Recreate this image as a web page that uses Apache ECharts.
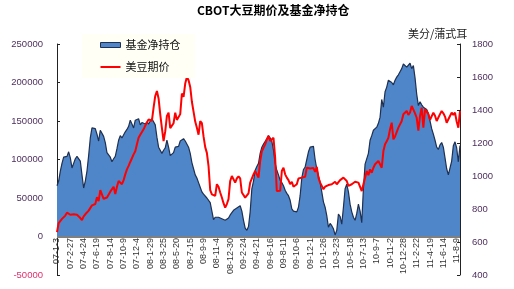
<!DOCTYPE html>
<html>
<head>
<meta charset="utf-8">
<script src="https://cdn.jsdelivr.net/npm/echarts@6/dist/echarts.min.js"></script>
<style>
  html, body { margin: 0; padding: 0; background: #fff; }
  #main { width: 514px; height: 289px; }
</style>
</head>
<body>
<div id="main"></div>
<script>
// 周度日期 07-1-3 起, 之后每周二
let weeks = ['07-1-3'];
for (let i = 1; i < 243; i++) {
    let d = new Date(Date.UTC(2007, 0, 2 + i * 7));
    weeks.push(String(d.getUTCFullYear()).slice(2) + '-' + (d.getUTCMonth() + 1) + '-' + d.getUTCDate());
}

// 基金净持仓 (手), 读图估计, 单位千
let fundK = [
    66, 72, 85, 95, 103, 105, 104, 110, 102, 89,
    95, 101, 104, 106, 98, 80, 63, 72, 85, 105,
    128, 141, 142, 140, 133, 124, 138, 136, 130, 122,
    109, 106, 103, 97, 101, 104, 114, 125, 131, 128,
    127, 136, 139, 143, 151, 146, 141, 151, 149, 153,
    145, 148, 146, 146, 149, 146, 150, 153, 151, 145,
    129, 116, 117, 108, 112, 115, 125, 116, 105, 107,
    109, 116, 118, 117, 124, 126, 127, 124, 122, 116,
    108, 96, 88, 80, 76, 70, 64, 58, 55, 53,
    50, 48, 44, 33, 22, 25, 27, 25, 24, 23,
    22, 21, 21, 24, 28, 31, 34, 36, 37, 39,
    40, 33, 21, 11, 8, 13, 32, 62, 72, 86,
    91, 95, 108, 116, 120, 122, 127, 131, 128, 124,
    112, 95, 86, 80, 73, 70, 66, 60, 56, 53,
    47, 36, 33, 32, 32, 38, 53, 76, 87, 90,
    100, 110, 116, 118, 117, 100, 88, 79, 70, 58,
    45, 38, 27, 12, 17, 14, 10, 2, 8, 29,
    26, 16, 38, 62, 68, 58, 42, 32, 25, 21,
    30, 42, 33, 18, 62, 94, 96, 108, 125, 131,
    138, 140, 142, 147, 155, 178, 168, 188, 194, 203,
    205, 200, 197, 203, 207, 210, 214, 218, 224, 223,
    220, 218, 225, 218, 222, 206, 185, 170, 175, 171,
    168, 166, 165, 160, 150, 140, 133, 125, 116, 113,
    119, 122, 116, 102, 88, 80, 80, 98, 118, 123,
    115, 97, 118
];

// 美豆期价 (美分/蒲式耳)
let soyPrice = [
    660, 715, 725, 740, 735, 760, 778, 770, 765, 772,
    768, 770, 765, 758, 745, 732, 755, 768, 772, 790,
    800, 822, 825, 830, 872, 848, 915, 905, 862, 858,
    870, 862, 905, 912, 935, 890, 935, 970, 958, 950,
    975, 1010, 1040, 1061, 1085, 1080, 1131, 1150, 1192, 1232,
    1250, 1245, 1283, 1305, 1300, 1343, 1350, 1335, 1414, 1485,
    1515, 1470, 1374, 1290, 1212, 1270, 1364, 1384, 1290, 1283,
    1320, 1384, 1340, 1350, 1375, 1500, 1480, 1560, 1600, 1580,
    1540, 1450, 1390, 1330, 1293, 1250, 1333, 1320, 1240, 1175,
    1140, 1060, 915, 889, 885, 880, 950, 935, 900, 870,
    835, 808, 830, 860, 970, 1000, 990, 960, 985, 998,
    985, 900, 889, 869, 880, 895, 960, 960, 1010, 1030,
    1020, 990, 1090, 1150, 1160, 1192, 1222, 1242, 1212, 1215,
    1232, 1111, 909, 900, 910, 1030, 1050, 1010, 990, 975,
    950, 965, 935, 925, 950, 985, 980, 990, 1000, 995,
    1050, 1055, 1045, 1040, 1048, 1025, 1055, 990, 960, 940,
    920, 935, 930, 945, 940, 950, 960, 965, 950, 960,
    975, 985, 990, 985, 970, 940, 930, 950, 958, 965,
    955, 960, 965, 909, 950, 990, 1030, 1005, 1040, 1020,
    1050, 1071, 1060, 1091, 1100, 1050, 1151, 1192, 1210, 1232,
    1283, 1323, 1222, 1240, 1250, 1293, 1300, 1333, 1374, 1365,
    1394, 1370, 1385, 1424, 1434, 1380, 1353, 1275, 1364, 1414,
    1293, 1404, 1390, 1375, 1340, 1350, 1384, 1365, 1333, 1345,
    1375, 1394, 1380, 1360, 1323, 1330, 1364, 1384, 1370, 1384,
    1330, 1293, 1394
];

let fundNet = fundK.map(v => v * 1000);

let myChart = echarts.init(document.getElementById('main'));

let option = {
    animation: false,
    textStyle: { fontFamily: 'Arial, "Liberation Sans", sans-serif' },
    title: [
        {
            text: 'CBOT大豆期价及基金净持仓',
            left: 197, top: 4, padding: 0,
            textStyle: { fontSize: 12, fontWeight: 'bold', color: '#000', fontFamily: '"Noto Sans CJK SC", Arial' }
        },
        {
            text: '美分/蒲式耳',
            left: 408, top: 28, padding: 0,
            textStyle: { fontSize: 11, fontWeight: 'normal', color: '#222', fontFamily: '"Noto Sans CJK SC"' }
        }
    ],
    legend: {
        orient: 'vertical',
        left: 82, top: 34,
        padding: [5, 15, 5, 18],
        itemGap: 10,
        itemWidth: 20,
        itemHeight: 5,
        backgroundColor: '#fffff6',
        textStyle: { fontSize: 11, color: '#111', fontFamily: '"Noto Sans CJK SC"', lineHeight: 12 },
        data: [
            { name: '基金净持仓', icon: 'rect', itemStyle: { color: '#4f86c9', borderColor: '#1f3050', borderWidth: 1 } },
            { name: '美豆期价', icon: 'path://M0,0M20,5M0,1.5H20V3.5H0Z', itemStyle: { color: '#ff0000', borderWidth: 0 } }
        ]
    },
    grid: { left: 57, right: 54, top: 44, bottom: 14, outerBoundsMode: 'none', containLabel: false },
    xAxis: {
        type: 'category',
        data: weeks,
        boundaryGap: false,
        // 轴放在底部, 标签用负 margin 挪到 0 线下方
        axisLine: { show: false, onZero: false },
        axisTick: { show: false },
        axisLabel: { interval: 7, rotate: 90, fontSize: 9, color: '#333', margin: -37 }
    },
    yAxis: [
        {
            type: 'value',
            min: -50000, max: 250000, interval: 50000,
            splitLine: { show: false },
            axisLine: { show: true, lineStyle: { color: '#222' } },
            axisTick: { show: true, inside: true, length: 3, lineStyle: { color: '#222' } },
            axisLabel: {
                fontSize: 9.5, color: '#4e2f5e', margin: 14,
                formatter: function (v) { return v < 0 ? '{neg|' + v + '}' : String(v); },
                rich: { neg: { color: '#e0306a', fontSize: 9.5 } }
            }
        },
        {
            type: 'value',
            min: 400, max: 1800, interval: 200,
            position: 'right',
            splitLine: { show: false },
            axisLine: { show: true, lineStyle: { color: '#222' } },
            axisTick: { show: true, inside: true, length: 3, lineStyle: { color: '#222' } },
            axisLabel: { fontSize: 9.5, color: '#4e2f5e', margin: 12, formatter: function (v) { return String(v); } }
        }
    ],
    series: [
        {
            name: '基金净持仓',
            type: 'line',
            data: fundNet,
            symbol: 'none',
            lineStyle: { color: '#1f3050', width: 1.2 },
            itemStyle: { color: '#4f86c9' },
            areaStyle: { color: '#4f86c9', opacity: 1 },
            markLine: {
                silent: true,
                symbol: 'none',
                label: { show: false },
                lineStyle: { color: '#808080', width: 2, type: 'solid' },
                data: [{ yAxis: 0 }]
            }
        },
        {
            name: '美豆期价',
            type: 'line',
            yAxisIndex: 1,
            data: soyPrice,
            symbol: 'none',
            lineStyle: { color: '#ff0000', width: 2 },
            itemStyle: { color: '#ff0000' }
        }
    ]
};

myChart.setOption(option);
</script>
</body>
</html>
